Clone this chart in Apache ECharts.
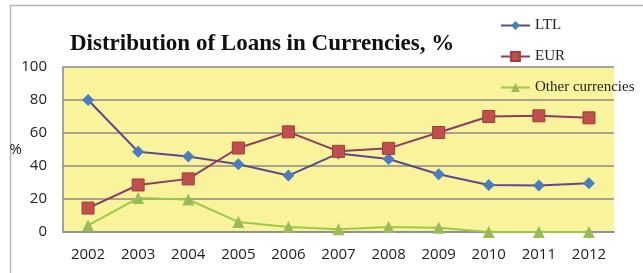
<!DOCTYPE html>
<html lang="en">

<head>
  <meta charset="UTF-8">
  <title>Distribution of Loans in Currencies</title>
  <script src="https://cdn.jsdelivr.net/npm/echarts@6/dist/echarts.min.js"></script>
  <style>
    html, body { margin: 0; padding: 0; background: #fff; }
  </style>
</head>

<body>
  <div id="main" style="width: 643px;height:273px"></div>
  <script>
    // 年份和三条曲线的数据
    var years = ['2002', '2003', '2004', '2005', '2006', '2007', '2008', '2009', '2010', '2011', '2012']
    var ltl = [80, 48.6, 45.8, 41.1, 34.2, 47.6, 44.2, 35, 28.5, 28.2, 29.5]
    var eur = [14.5, 28.5, 32.2, 50.9, 60.7, 48.9, 50.7, 60.3, 70, 70.4, 69.2]
    var other = [4, 20.6, 19.7, 6.1, 3, 1.6, 3, 2.6, 0, 0, 0]
    var yTicks = [0, 20, 40, 60, 80, 100]

    var serif = '"Liberation Serif", "DejaVu Serif", serif'
    var sans = '"Open Sans", "Liberation Sans", sans-serif'

    var mCharts = echarts.init(document.getElementById('main'))
    var option = {
      animation: false,
      title: {
        text: 'Distribution of Loans in Currencies, %',
        left: 65,
        top: 28,
        textStyle: { fontFamily: serif, fontWeight: 'bold', fontSize: 23, color: '#111' }
      },
      graphic: [
        { // 外边框
          type: 'rect',
          shape: { x: 10.5, y: 5.5, width: 700, height: 300 },
          style: { fill: null, stroke: '#b5b5b5', lineWidth: 1.5 },
          z: -10
        }
      ],
      legend: {
        orient: 'vertical',
        left: 495,
        top: 13,
        itemWidth: 29,
        itemHeight: 11,
        itemGap: 16,
        textStyle: { fontFamily: serif, fontSize: 15, color: '#222' },
        data: ['LTL', 'EUR', 'Other currencies']
      },
      grid: {
        left: 63,
        right: 29,
        top: 67,
        bottom: 41,
        show: true,
        backgroundColor: '#f9f49b',
        borderWidth: 0
      },
      xAxis: {
        type: 'category',
        data: years,
        boundaryGap: true,
        axisTick: { show: false },
        axisLine: { lineStyle: { color: '#8a8a8a', width: 1.5 } },
        axisLabel: { margin: 15, fontFamily: sans, fontSize: 15, color: '#222' }
      },
      yAxis: {
        type: 'value',
        min: yTicks[0],
        max: yTicks[yTicks.length - 1],
        interval: 20,
        name: '%',
        nameLocation: 'middle',
        nameRotate: 0,
        nameGap: 41,
        nameMoveOverlap: false,
        nameTextStyle: { fontFamily: sans, fontSize: 15, color: '#222' },
        axisLine: { show: true, lineStyle: { color: '#8a8a8a', width: 1.5 } },
        axisTick: { show: false },
        splitLine: { lineStyle: { color: '#8a8a8a', width: 1.5 } },
        axisLabel: { margin: 16, fontFamily: sans, fontSize: 15, color: '#222' }
      },
      series: [
        {
          name: 'LTL',
          type: 'line',
          data: ltl,
          symbol: 'diamond',
          symbolSize: 12,
          lineStyle: { color: '#5b4a8f', width: 2 },
          itemStyle: { color: '#4a7cc0', borderWidth: 0 }
        },
        {
          name: 'EUR',
          type: 'line',
          data: eur,
          symbol: 'rect',
          symbolSize: 12,
          lineStyle: { color: '#8e3a64', width: 2 },
          itemStyle: { color: '#c0504d', borderColor: '#a13c3a', borderWidth: 1 }
        },
        {
          name: 'Other currencies',
          type: 'line',
          data: other,
          symbol: 'triangle',
          symbolSize: 12,
          lineStyle: { color: '#9bc94a', width: 2 },
          itemStyle: { color: '#9bbb59', borderWidth: 0 }
        }
      ]
    }
    mCharts.setOption(option)
  </script>
</body>

</html>
